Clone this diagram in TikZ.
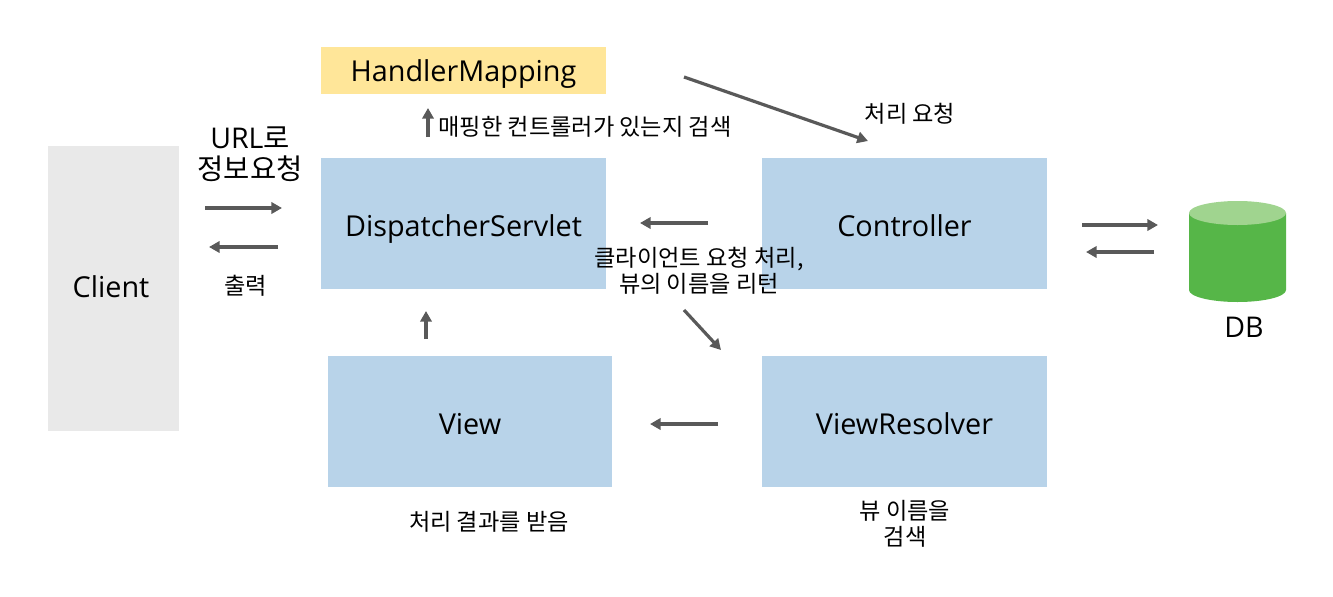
\documentclass[tikz,border=0pt]{standalone}
\usepackage{fontspec}
\usetikzlibrary{arrows.meta}
\setmainfont{Open Sans}
\newfontfamily\krfont{Noto Sans CJK KR}
\definecolor{boxblue}{HTML}{B8D3E9}
\definecolor{boxyellow}{HTML}{FFE699}
\definecolor{boxgray}{HTML}{E9E9E9}
\definecolor{flowgray}{HTML}{595959}
\definecolor{dbgreen}{HTML}{56B648}
\definecolor{dbtop}{HTML}{A0D48F}
\tikzset{
  box/.style={fill=boxblue, minimum width=213.75pt, minimum height=98.25pt, inner sep=0pt, text height=22pt, text depth=3.2pt, font=\fontsize{21.6}{26}\selectfont},
  flow/.style={draw=flowgray, line width=2.4pt, -{Triangle[length=8pt, width=8.5pt]}},
  note/.style={font=\krfont\fontsize{17.4}{19.5}\selectfont, align=center, inner sep=0pt},
  bignote/.style={font=\fontsize{21.4}{23.5}\selectfont, align=center, inner sep=0pt}
}
\begin{document}
\begin{tikzpicture}[x=0.75pt, y=-0.75pt]
  \useasboundingbox (0,0) rectangle (1333,596);

  % Boxes
  \node[box, fill=boxgray, minimum width=98.25pt, minimum height=213.75pt, text height=16.5pt] (client) at (113.5,288.5) {Client\kern3.75pt};
  \node[box, fill=boxyellow, minimum height=35.25pt, text height=18.95pt] (mapping) at (463.5,70.5) {HandlerMapping};
  \node[box] (servlet) at (463.5,223.5) {DispatcherServlet};
  \node[box] (controller) at (904.5,223.5) {Controller};
  \node[box, minimum width=213pt] (view) at (470,421.5) {View};
  \node[box] (resolver) at (904.5,421.5) {ViewResolver};

  % DB cylinder
  \fill[dbgreen] (1189,213) -- (1189,290) arc[start angle=180, end angle=360, x radius=48.5, y radius=-12] -- (1286,213) -- cycle;
  \fill[dbtop] (1237.5,213) ellipse [x radius=48.5, y radius=12];
  \node[bignote] (db) at (1244,327) {DB};

  % Arrow ends
  \coordinate (urlA) at (205,208);    \coordinate (urlB) at (282,208);
  \coordinate (outA) at (278,247);    \coordinate (outB) at (209,247);
  \coordinate (mapA) at (428,137);    \coordinate (mapB) at (428,108);
  \coordinate (reqA) at (684,77);     \coordinate (reqB) at (868,141);
  \coordinate (retA) at (708,223);    \coordinate (retB) at (640,223);
  \coordinate (dbA) at (1082,225);    \coordinate (dbB) at (1158,225);
  \coordinate (dbC) at (1154,252);    \coordinate (dbD) at (1086,252);
  \coordinate (resA) at (684,310);    \coordinate (resB) at (721,350);
  \coordinate (viewA) at (718,424);   \coordinate (viewB) at (650,424);
  \coordinate (upA) at (426,339);     \coordinate (upB) at (426,311);

  \draw[flow] (urlA) -- (urlB);
  \draw[flow] (outA) -- (outB);
  \draw[flow] (mapA) -- (mapB);
  \draw[flow] (reqA) -- (reqB);
  \draw[flow] (retA) -- (retB);
  \draw[flow] (dbA) -- (dbB);
  \draw[flow] (dbC) -- (dbD);
  \draw[flow] (resA) -- (resB);
  \draw[flow] (viewA) -- (viewB);
  \draw[flow] (upA) -- (upB);

  % Labels
  \node[bignote] (urlnote) at (250,154) {URL{\krfont 로}\\{\krfont 정보요청}};
  \node[note] (outnote) at (245.5,286) {출력};
  \node[note] (mapnote) at (585,127) {매핑한 컨트롤러가 있는지 검색};
  \node[note] (reqnote) at (910,114) {처리 요청};
  \node[note] (retnote) at (699,270.5) {클라이언트 요청 처리,\\뷰의 이름을 리턴};
  \node[note] (viewnote) at (489,522) {처리 결과를 받음};
  \node[note] (resnote) at (905,524) {뷰 이름을\\검색};
\end{tikzpicture}
\end{document}
